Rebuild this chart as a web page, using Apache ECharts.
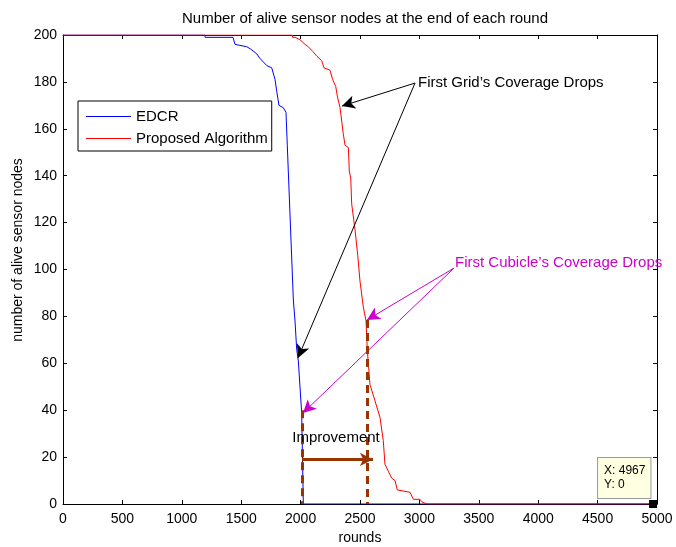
<!DOCTYPE html>
<html>
<head>
<meta charset="utf-8">
<script src="https://cdn.jsdelivr.net/npm/echarts@6/dist/echarts.min.js"></script>
<style>
  html, body { margin: 0; padding: 0; background: #fff; }
  #chart { width: 676px; height: 547px; }
</style>
</head>
<body>
<div id="chart"></div>
<script>
// Alive sensor nodes per round
const edcrRounds = [0, 1195, 1196, 1431, 1448, 1546, 1580, 1630, 1658, 1715, 1757, 1785, 1799, 1818, 1854, 1877, 1888, 1939, 1953, 1967, 1981, 2009, 2023, 5000];
const edcrAlive  = [200, 200, 199, 199, 196, 195, 194, 192, 190, 187, 186, 181, 176, 170, 169, 167, 153, 87, 78, 66, 61, 39, 0, 0];

const propRounds = [0, 1930, 1933, 1953, 1995, 2037, 2065, 2102, 2136, 2178, 2197, 2247, 2270, 2296, 2309, 2332, 2359, 2374, 2402, 2410, 2422, 2430, 2458, 2481, 2500, 2528, 2551, 2561, 2584, 2626, 2668, 2696, 2710, 2738, 2767, 2795, 2814, 2921, 2949, 3005, 3019, 3061, 5000];
const propAlive  = [200, 200, 199, 199, 198, 196, 195, 193, 191, 189, 186, 185, 181, 178, 174, 169, 158, 153, 152, 142, 139, 128, 117, 106, 95, 84, 78, 66, 51, 44, 37, 27, 17, 14, 11, 10, 6, 5, 2, 2, 1, 0, 0];

const seriesNames = ['EDCR', 'Proposed Algorithm'];
const seriesColors = ['#0000ff', '#ff0000'];
const xTicks = { min: 0, max: 5000, step: 500 };
const yTicks = { min: 0, max: 200, step: 20 };

// Annotation anchors (data coordinates)
const gridNote = { text: 'First Grid\u2019s Coverage Drops', from: [2963, 179.5], label: [2963, 179.7], tips: [[2348, 169.7], [1978, 62.3]] };
const cubeNote = { text: 'First Cubicle\u2019s Coverage Drops', from: [3291, 100.6], label: [3291, 103], tips: [[2559, 78.5], [2020, 38.8]] };
const firstDrop = [2012, 40];     // EDCR first cubicle drop
const secondDrop = [2559, 78.5];  // proposed first cubicle drop
const improveY = 19;
const improveEnd = 2609;
const improveLabel = [2298, 28.2];
const tipPoint = [4967, 0];

const zip = (xs, ys) => xs.map((x, i) => [x, ys[i]]);

const font = 'Liberation Sans, Arial, Helvetica, sans-serif';
const BROWN = '#993300';
const MAGENTA = '#cc00cc';

const chart = echarts.init(document.getElementById('chart'), null, { renderer: 'canvas' });

function arrowPair(from, to, color, width, dashed, arrow) {
  return [
    { coord: from, symbol: 'none' },
    { coord: to, symbol: arrow ? 'arrow' : 'none', symbolSize: [10, 13],
      lineStyle: { color: color, width: width, type: dashed ? [8, 5] : 'solid' } }
  ];
}

const annotationLines = [
  arrowPair(gridNote.from, gridNote.tips[0], '#000', 1, false, true),
  arrowPair(gridNote.from, gridNote.tips[1], '#000', 1, false, true),
  arrowPair(cubeNote.from, cubeNote.tips[0], MAGENTA, 1, false, true),
  arrowPair(cubeNote.from, cubeNote.tips[1], MAGENTA, 1, false, true),
  arrowPair(firstDrop, [firstDrop[0], 0], BROWN, 3, true, false),
  arrowPair(secondDrop, [secondDrop[0], 0], BROWN, 3, true, false),
  arrowPair([firstDrop[0], improveY], [improveEnd, improveY], BROWN, 3, false, true)
];

const plainNumber = v => String(v);

const axisCommon = {
  type: 'value',
  axisLine: { show: true, onZero: false, lineStyle: { color: '#000', width: 1 } },
  axisTick: { show: true, inside: true, length: 4, lineStyle: { color: '#000' } },
  splitLine: { show: false },
  axisLabel: { color: '#000', fontFamily: font, fontSize: 14, formatter: plainNumber }
};

chart.setOption({
  animation: false,
  backgroundColor: '#fff',
  title: {
    text: 'Number of alive sensor nodes at the end of each round',
    left: 360, top: 6, textAlign: 'center',
    textStyle: { fontFamily: font, fontSize: 15, fontWeight: 'normal', color: '#000' }
  },
  grid: { left: 63, top: 35, right: 19, bottom: 43, containLabel: false, outerBoundsMode: 'none' },
  legend: {
    data: seriesNames.map((n, i) => ({ name: n, itemStyle: { color: seriesColors[i], borderWidth: 0 } })),
    icon: 'rect',
    orient: 'vertical',
    left: 78, top: 101,
    itemWidth: 45, itemHeight: 1, itemGap: 7,
    padding: [8, 4, 5, 8],
    backgroundColor: '#fff',
    borderColor: '#000', borderWidth: 1, borderRadius: 0,
    itemStyle: { borderWidth: 0 },
    textStyle: { fontFamily: font, fontSize: 15, color: '#000' }
  },
  xAxis: [
    Object.assign({}, axisCommon, {
      min: xTicks.min, max: xTicks.max, interval: xTicks.step, position: 'bottom',
      name: 'rounds', nameLocation: 'middle', nameGap: 26,
      nameTextStyle: { fontFamily: font, fontSize: 14, color: '#000' },
      axisLabel: Object.assign({}, axisCommon.axisLabel, { margin: 8 })
    }),
    Object.assign({}, axisCommon, {
      min: xTicks.min, max: xTicks.max, interval: xTicks.step, position: 'top',
      axisLabel: { show: false }
    })
  ],
  yAxis: [
    Object.assign({}, axisCommon, {
      min: yTicks.min, max: yTicks.max, interval: yTicks.step, position: 'left',
      axisLabel: Object.assign({}, axisCommon.axisLabel, { margin: 6 })
    }),
    Object.assign({}, axisCommon, {
      min: yTicks.min, max: yTicks.max, interval: yTicks.step, position: 'right',
      axisLabel: { show: false }
    })
  ],
  series: [
    {
      name: seriesNames[0], type: 'line', data: zip(edcrRounds, edcrAlive),
      symbol: 'none', lineStyle: { color: seriesColors[0], width: 1 }, itemStyle: { color: seriesColors[0] },
      z: 2,
      markPoint: {
        silent: true,
        data: [{ coord: tipPoint }],
        symbol: 'rect', symbolSize: 8,
        itemStyle: { color: '#000' },
        label: {
          show: true,
          formatter: 'X: ' + tipPoint[0] + '\nY: ' + tipPoint[1],
          position: [-51, -42],
          align: 'left', verticalAlign: 'top',
          backgroundColor: '#ffffe1', borderColor: '#999', borderWidth: 1,
          padding: [6, 5, 6, 6], lineHeight: 14,
          fontFamily: font, fontSize: 12, color: '#000'
        }
      }
    },
    {
      name: seriesNames[1], type: 'line', data: zip(propRounds, propAlive),
      symbol: 'none', lineStyle: { color: seriesColors[1], width: 1 }, itemStyle: { color: seriesColors[1] },
      z: 3
    },
    {
      name: 'annotations', type: 'line', data: [], z: 4,
      markLine: {
        silent: true, animation: false,
        label: { show: false },
        data: annotationLines
      }
    }
  ]
});

// Annotation texts, placed through the chart's own coordinate conversion
function textAt(coord, text, color, offsetX, align) {
  const p = chart.convertToPixel({ xAxisIndex: 0, yAxisIndex: 0 }, coord);
  return {
    type: 'text', x: p[0] + offsetX, y: p[1], z: 100,
    style: { text: text, fill: color, fontFamily: font, fontSize: 15, align: align, verticalAlign: 'middle' }
  };
}
chart.setOption({
  graphic: [
    textAt(gridNote.label, gridNote.text, '#000', 3, 'left'),
    textAt(cubeNote.label, cubeNote.text, MAGENTA, 1, 'left'),
    textAt(improveLabel, 'Improvement', '#000', 0, 'center'),
    // y-axis title, rotated
    {
      type: 'text', x: 18, y: 250, rotation: Math.PI / 2, z: 100,
      style: { text: 'number of alive sensor nodes', fill: '#000', fontFamily: font, fontSize: 14, align: 'center', verticalAlign: 'middle' }
    }
  ]
});
</script>
</body>
</html>
